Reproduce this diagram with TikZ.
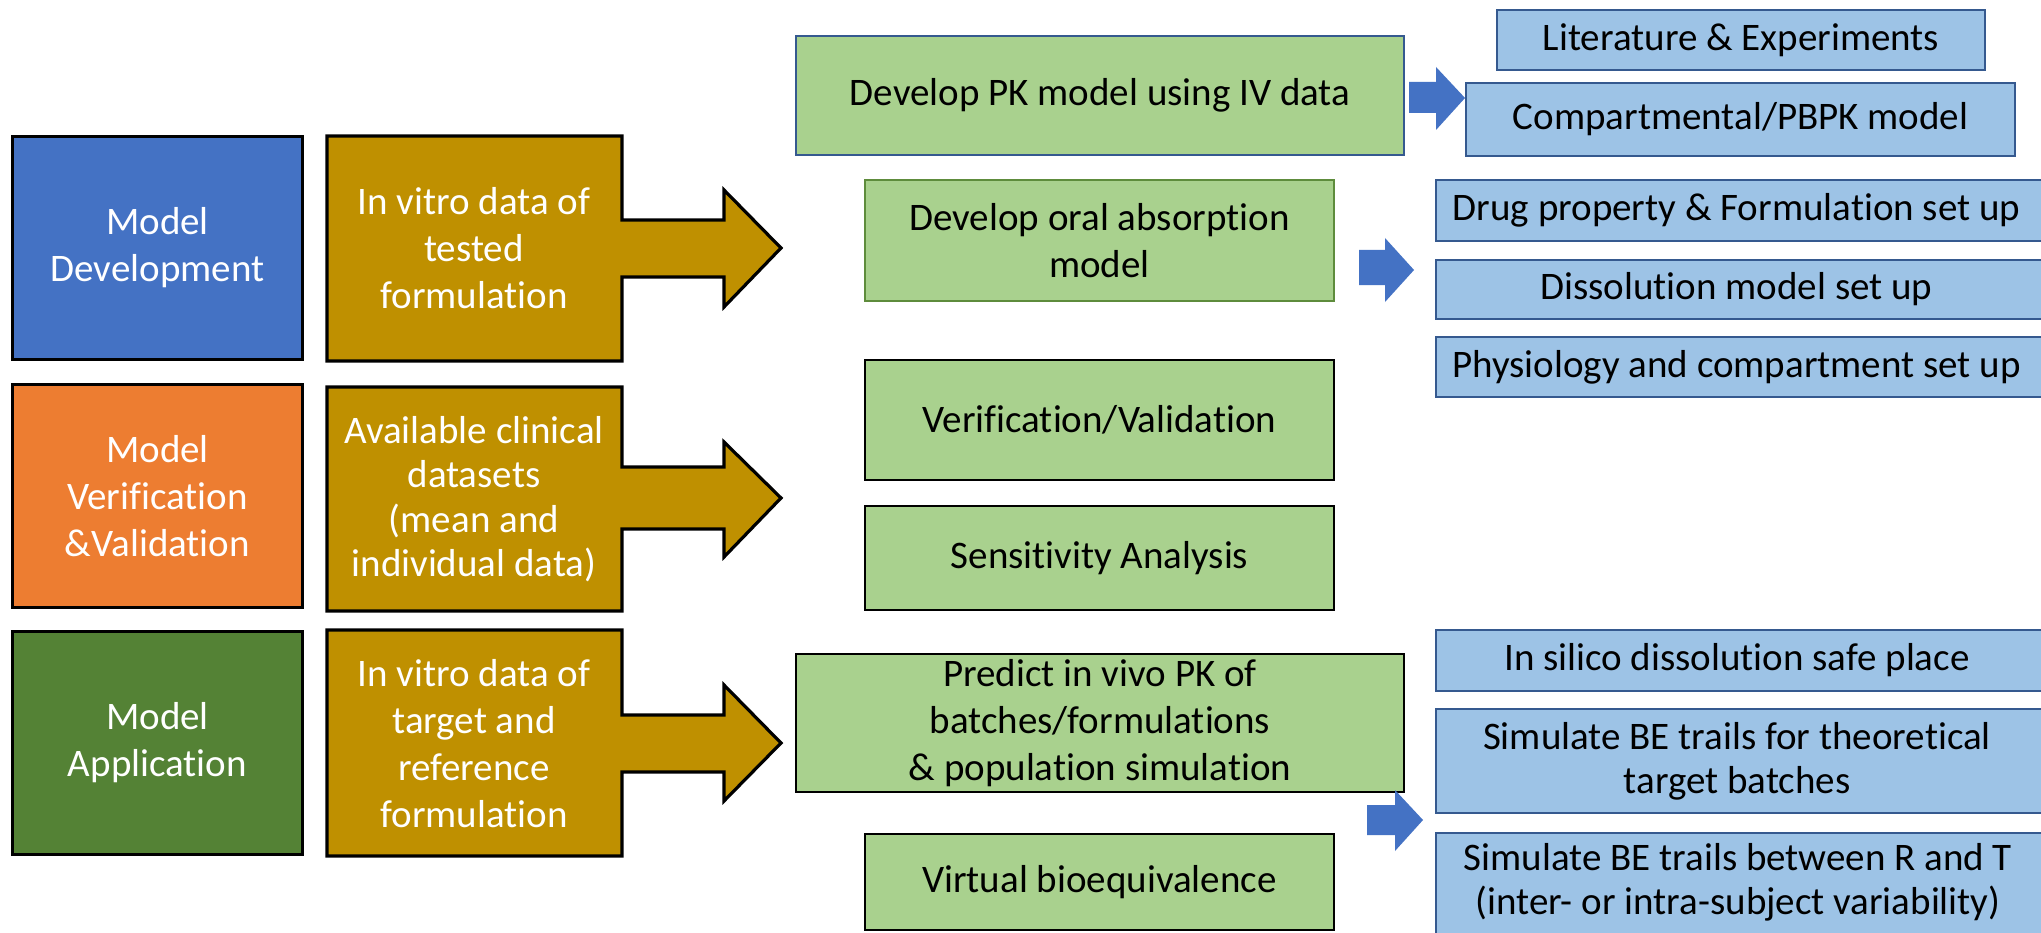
\documentclass[tikz,border=0pt]{standalone}
\usepackage{fontspec}
\setmainfont{Carlito}[Ligatures={NoCommon}]
\definecolor{mdblue}{HTML}{4472C4}
\definecolor{mvorange}{HTML}{ED7D31}
\definecolor{magreen}{HTML}{548235}
\definecolor{gold}{HTML}{BF9000}
\definecolor{lgreen}{HTML}{A9D18E}
\definecolor{lblue}{HTML}{9DC3E6}
\definecolor{bborder}{HTML}{35598F}
\definecolor{gborder}{HTML}{5E8C3C}
\definecolor{arrowblue}{HTML}{4472C4}
\tikzset{
  leftbox/.style={draw=black, line width=3.2pt, minimum width=290pt, minimum height=223pt, inner sep=0pt, text=white, align=center, font=\fontsize{39}{47}\selectfont},
  goldshape/.style={draw=black, fill=gold, line width=3.2pt, line join=miter},
  goldtext/.style={inner sep=0pt, text=white, align=center, font=\fontsize{39}{47}\selectfont},
  midbox/.style={draw=black, fill=lgreen, line width=2.7pt, inner sep=0pt, align=center, font=\fontsize{39}{47}\selectfont},
  bluebox/.style={draw=bborder, fill=lblue, line width=2.7pt, inner sep=0pt, align=center, font=\fontsize{39}{44}\selectfont},
  bluerect/.style={draw=bborder, fill=lblue, line width=2.7pt},
  bluetext/.style={inner sep=0pt, align=center, font=\fontsize{39}{44}\selectfont},
  blockarrow/.style={fill=arrowblue, draw=none}
}
\begin{document}
\begin{tikzpicture}[x=1pt,y=-1pt]
\useasboundingbox (0,0) rectangle (2041,933);
\clip (0,0) rectangle (2041,933);
\fill[white] (0,0) rectangle (2041,933);

% left column
\node[leftbox, fill=mdblue] (md) at (157.5,248) {Model\\Development};
\node[leftbox, fill=mvorange] (mv) at (157.5,496) {Model\\Verification\\\&Validation};
\node[leftbox, fill=magreen] (ma) at (157.5,743) {Model\\Application};

% gold callout arrows
\draw[goldshape] (327,136) -- (622,136) -- (622,220) -- (724,220) -- (724,190) -- (781,248) -- (724,307) -- (724,277) -- (622,277) -- (622,361) -- (327,361) -- cycle;
\node[goldtext] (g1) at (474,248.5) {In vitro data of\\tested\\formulation};
\draw[goldshape] (327,387) -- (622,387) -- (622,467) -- (724,467) -- (724,442) -- (781,498) -- (724,557) -- (724,529) -- (622,529) -- (622,611) -- (327,611) -- cycle;
\node[goldtext, font=\fontsize{39}{44.5}\selectfont] (g2) at (474,499) {Available clinical\\datasets\\(mean and\\individual data)};
\draw[goldshape] (327,630) -- (622,630) -- (622,715) -- (724,715) -- (724,685) -- (781,743) -- (724,801) -- (724,772) -- (622,772) -- (622,856) -- (327,856) -- cycle;
\node[goldtext] (g3) at (474,744) {In vitro data of\\target and\\reference\\formulation};

% middle column
\node[midbox, draw=bborder, minimum width=608pt, minimum height=119pt] (pk) at (1100,95.5) {Develop PK model using IV data};
\node[midbox, draw=gborder, minimum width=469pt, minimum height=121pt] (oral) at (1099.5,240.5) {Develop oral absorption\\model};
\node[midbox, minimum width=469pt, minimum height=120pt] (ver) at (1099.5,420) {Verification/Validation};
\node[midbox, minimum width=469pt, minimum height=104pt] (sens) at (1099.5,558) {Sensitivity Analysis};
\node[midbox, minimum width=608pt, minimum height=138pt] (pred) at (1100,723) {Predict in vivo PK of\\batches/formulations\\\& population simulation};
\node[midbox, minimum width=469pt, minimum height=96pt] (vbe) at (1099.5,882) {Virtual bioequivalence};

% blue block arrows
\fill[blockarrow] (1409,82) -- (1436,82) -- (1436,67) -- (1465,98) -- (1436,130) -- (1436,113) -- (1409,113) -- cycle;
\fill[blockarrow] (1359,250) -- (1385,250) -- (1385,238) -- (1414,270) -- (1385,302) -- (1385,285) -- (1359,285) -- cycle;
\fill[blockarrow] (1367,805) -- (1395,805) -- (1395,790) -- (1423,820) -- (1395,851) -- (1395,835) -- (1367,835) -- cycle;

% right column
\node[bluebox, minimum width=488pt, minimum height=60pt] (lit) at (1741,40) {Literature \& Experiments};
\node[bluebox, minimum width=549pt, minimum height=73pt] (comp) at (1740.5,119.5) {Compartmental/PBPK model};
\draw[bluerect] (1436,180) rectangle (2070,241);
\node[bluetext] (drug) at (1736.5,210.5) {Drug property \& Formulation set up};
\draw[bluerect] (1436,260) rectangle (2070,319);
\node[bluetext] (diss) at (1736.5,289.5) {Dissolution model set up};
\draw[bluerect] (1436,337) rectangle (2070,397);
\node[bluetext] (phys) at (1736.5,367) {Physiology and compartment set up};
\draw[bluerect] (1436,630) rectangle (2070,691);
\node[bluetext] (silico) at (1737,660.5) {In silico dissolution safe place};
\draw[bluerect] (1436,709) rectangle (2070,813);
\node[bluetext] (sim1) at (1737,761) {Simulate BE trails for theoretical\\target batches};
\draw[bluerect] (1436,833) rectangle (2070,950);
\node[bluetext] (sim2) at (1738,882) {Simulate BE trails between R and T\\(inter- or intra-subject variability)};
\end{tikzpicture}
\end{document}
